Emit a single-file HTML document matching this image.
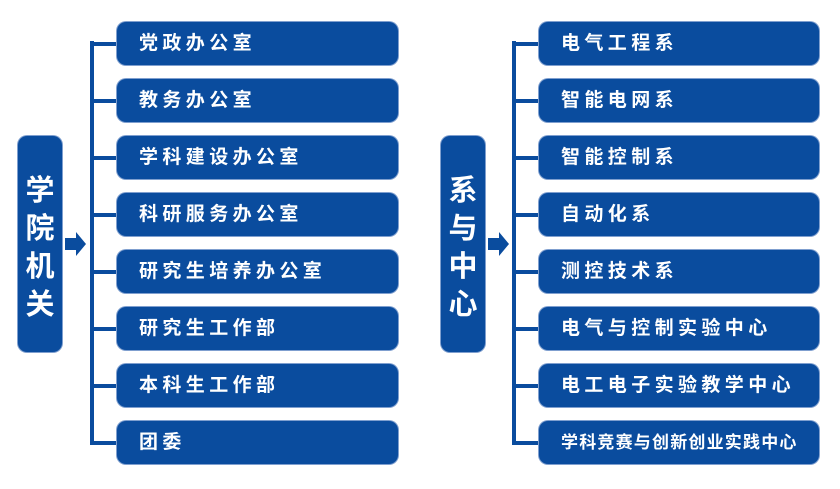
<!DOCTYPE html><html><head><meta charset="utf-8"><style>
body{margin:0;width:840px;height:489px;background:#fff;position:relative;overflow:hidden;font-family:"Liberation Sans","Noto Sans CJK SC",sans-serif;}
.t{position:absolute;background:#0a4c9e;border-radius:9px;color:#fff;font-weight:bold;font-size:29px;line-height:38px;text-align:center;box-shadow:0 0 0 1px #7f9fcf;}
.b{position:absolute;background:#0a4c9e;border-radius:9px;color:#fff;font-weight:bold;font-size:19px;letter-spacing:4.4px;height:43px;line-height:43px;padding-left:22px;box-sizing:border-box;box-shadow:0 0 0 1px #7f9fcf;white-space:nowrap;}
.v{position:absolute;background:#0a4c9e;width:4px;}
.h{position:absolute;background:#0a4c9e;height:4px;}
</style></head><body>
<div class="t" style="left:18px;top:136px;width:44px;height:216px;"><div style="margin-top:36px">学<br>院<br>机<br>关</div></div>
<div class="t" style="left:441px;top:136px;width:44px;height:216px;"><div style="margin-top:36px">系<br>与<br>中<br>心</div></div>
<svg style="position:absolute;left:0;top:0" width="840" height="489">
<polygon points="65,238 76,238 76,232 86,244 76,256 76,250 65,250" fill="#0a4c9e"/>
<polygon points="488,238 499,238 499,232 509,244 499,256 499,250 488,250" fill="#0a4c9e"/>
</svg>
<div class="v" style="left:90px;top:41px;height:404px"></div>
<div class="v" style="left:512px;top:41px;height:404px"></div>
<div id="L"></div>
<script>
var L=["党政办公室","教务办公室","学科建设办公室","科研服务办公室","研究生培养办公室","研究生工作部","本科生工作部","团委"];
var R=["电气工程系","智能电网系","智能控制系","自动化系","测控技术系","电气与控制实验中心","电工电子实验教学中心","学科竞赛与创新创业实践中心"];
var h="";
for(var i=0;i<8;i++){var y=22+57*i;
h+='<div class="h" style="left:90px;top:'+(y+20)+'px;width:28px"></div>';
h+='<div class="b" style="left:117px;top:'+y+'px;width:281px">'+L[i]+'</div>';
h+='<div class="h" style="left:512px;top:'+(y+20)+'px;width:28px"></div>';
h+='<div class="b" style="left:539px;top:'+y+'px;width:280px'+(i==7?';letter-spacing:1.2px;font-size:17px':'')+'">'+R[i]+'</div>';}
document.getElementById("L").innerHTML=h;
</script>
</body></html>
